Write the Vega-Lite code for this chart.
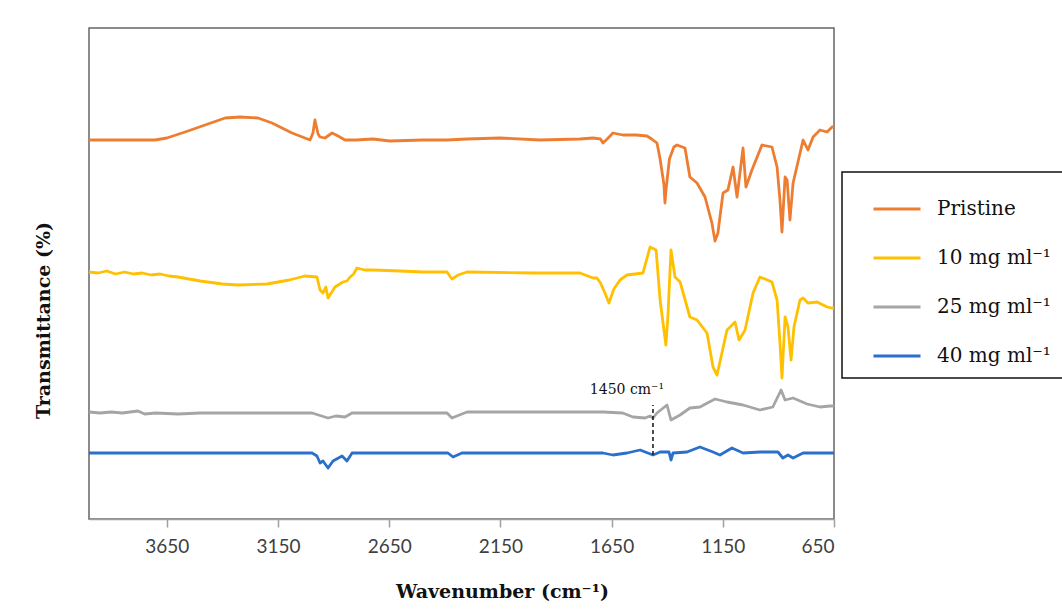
{
  "$schema": "https://vega.github.io/schema/vega-lite/v6.json",
  "autosize": "none",
  "width": 745,
  "height": 491,
  "padding": {"left": 89, "top": 28, "right": 228, "bottom": 95},
  "background": "white",
  "config": {
    "view": {"stroke": "#666666", "strokeWidth": 1.5},
    "axis": {"grid": false},
    "legend": {"strokeWidth": 1.5}
  },
  "datasets": {
    "spectra": [
      {"s":"Pristine","wn":4000,"t":379},{"s":"Pristine","wn":3850,"t":379},{"s":"Pristine","wn":3703,"t":379},{"s":"Pristine","wn":3650,"t":381},{"s":"Pristine","wn":3568,"t":387},{"s":"Pristine","wn":3478,"t":394},{"s":"Pristine","wn":3388,"t":401},{"s":"Pristine","wn":3321,"t":402},{"s":"Pristine","wn":3240,"t":401},{"s":"Pristine","wn":3177,"t":396},{"s":"Pristine","wn":3087,"t":386},{"s":"Pristine","wn":3029,"t":381},{"s":"Pristine","wn":3006,"t":379},{"s":"Pristine","wn":2993,"t":386},{"s":"Pristine","wn":2984,"t":399},{"s":"Pristine","wn":2970,"t":385},{"s":"Pristine","wn":2961,"t":382},{"s":"Pristine","wn":2939,"t":381},{"s":"Pristine","wn":2907,"t":386},{"s":"Pristine","wn":2880,"t":383},{"s":"Pristine","wn":2849,"t":379},{"s":"Pristine","wn":2800,"t":379},{"s":"Pristine","wn":2723,"t":380},{"s":"Pristine","wn":2647,"t":378},{"s":"Pristine","wn":2500,"t":379},{"s":"Pristine","wn":2390,"t":379},{"s":"Pristine","wn":2300,"t":380},{"s":"Pristine","wn":2152,"t":381},{"s":"Pristine","wn":1972,"t":379},{"s":"Pristine","wn":1792,"t":380},{"s":"Pristine","wn":1734,"t":381},{"s":"Pristine","wn":1700,"t":380},{"s":"Pristine","wn":1689,"t":376},{"s":"Pristine","wn":1670,"t":380},{"s":"Pristine","wn":1644,"t":386},{"s":"Pristine","wn":1600,"t":384},{"s":"Pristine","wn":1540,"t":384},{"s":"Pristine","wn":1491,"t":383},{"s":"Pristine","wn":1470,"t":380},{"s":"Pristine","wn":1446,"t":376},{"s":"Pristine","wn":1432,"t":360},{"s":"Pristine","wn":1415,"t":335},{"s":"Pristine","wn":1410,"t":316},{"s":"Pristine","wn":1405,"t":330},{"s":"Pristine","wn":1390,"t":360},{"s":"Pristine","wn":1370,"t":372},{"s":"Pristine","wn":1356,"t":374},{"s":"Pristine","wn":1320,"t":371},{"s":"Pristine","wn":1298,"t":342},{"s":"Pristine","wn":1266,"t":336},{"s":"Pristine","wn":1230,"t":322},{"s":"Pristine","wn":1199,"t":296},{"s":"Pristine","wn":1185,"t":278},{"s":"Pristine","wn":1172,"t":286},{"s":"Pristine","wn":1149,"t":326},{"s":"Pristine","wn":1127,"t":329},{"s":"Pristine","wn":1104,"t":352},{"s":"Pristine","wn":1086,"t":322},{"s":"Pristine","wn":1059,"t":371},{"s":"Pristine","wn":1046,"t":332},{"s":"Pristine","wn":1019,"t":349},{"s":"Pristine","wn":974,"t":374},{"s":"Pristine","wn":929,"t":372},{"s":"Pristine","wn":906,"t":352},{"s":"Pristine","wn":893,"t":319},{"s":"Pristine","wn":884,"t":287},{"s":"Pristine","wn":870,"t":342},{"s":"Pristine","wn":861,"t":339},{"s":"Pristine","wn":848,"t":299},{"s":"Pristine","wn":834,"t":336},{"s":"Pristine","wn":812,"t":357},{"s":"Pristine","wn":789,"t":379},{"s":"Pristine","wn":767,"t":369},{"s":"Pristine","wn":744,"t":382},{"s":"Pristine","wn":713,"t":389},{"s":"Pristine","wn":681,"t":387},{"s":"Pristine","wn":659,"t":392},{"s":"Pristine","wn":650,"t":392},

      {"s":"10 mg ml⁻¹","wn":4000,"t":247},{"s":"10 mg ml⁻¹","wn":3960,"t":246},{"s":"10 mg ml⁻¹","wn":3920,"t":248},{"s":"10 mg ml⁻¹","wn":3880,"t":245},{"s":"10 mg ml⁻¹","wn":3840,"t":247},{"s":"10 mg ml⁻¹","wn":3800,"t":245},{"s":"10 mg ml⁻¹","wn":3760,"t":246},{"s":"10 mg ml⁻¹","wn":3720,"t":244},{"s":"10 mg ml⁻¹","wn":3680,"t":245},{"s":"10 mg ml⁻¹","wn":3640,"t":243},{"s":"10 mg ml⁻¹","wn":3600,"t":242},{"s":"10 mg ml⁻¹","wn":3500,"t":238},{"s":"10 mg ml⁻¹","wn":3400,"t":235},{"s":"10 mg ml⁻¹","wn":3330,"t":234},{"s":"10 mg ml⁻¹","wn":3200,"t":235},{"s":"10 mg ml⁻¹","wn":3100,"t":239},{"s":"10 mg ml⁻¹","wn":3029,"t":243},{"s":"10 mg ml⁻¹","wn":2975,"t":242},{"s":"10 mg ml⁻¹","wn":2961,"t":229},{"s":"10 mg ml⁻¹","wn":2948,"t":226},{"s":"10 mg ml⁻¹","wn":2935,"t":232},{"s":"10 mg ml⁻¹","wn":2925,"t":221},{"s":"10 mg ml⁻¹","wn":2894,"t":232},{"s":"10 mg ml⁻¹","wn":2858,"t":237},{"s":"10 mg ml⁻¹","wn":2840,"t":238},{"s":"10 mg ml⁻¹","wn":2826,"t":242},{"s":"10 mg ml⁻¹","wn":2810,"t":245},{"s":"10 mg ml⁻¹","wn":2795,"t":251},{"s":"10 mg ml⁻¹","wn":2760,"t":249},{"s":"10 mg ml⁻¹","wn":2723,"t":249},{"s":"10 mg ml⁻¹","wn":2600,"t":248},{"s":"10 mg ml⁻¹","wn":2500,"t":247},{"s":"10 mg ml⁻¹","wn":2390,"t":247},{"s":"10 mg ml⁻¹","wn":2368,"t":240},{"s":"10 mg ml⁻¹","wn":2340,"t":244},{"s":"10 mg ml⁻¹","wn":2300,"t":247},{"s":"10 mg ml⁻¹","wn":2000,"t":246},{"s":"10 mg ml⁻¹","wn":1792,"t":246},{"s":"10 mg ml⁻¹","wn":1734,"t":241},{"s":"10 mg ml⁻¹","wn":1716,"t":241},{"s":"10 mg ml⁻¹","wn":1700,"t":236},{"s":"10 mg ml⁻¹","wn":1680,"t":226},{"s":"10 mg ml⁻¹","wn":1662,"t":216},{"s":"10 mg ml⁻¹","wn":1640,"t":230},{"s":"10 mg ml⁻¹","wn":1612,"t":239},{"s":"10 mg ml⁻¹","wn":1581,"t":244},{"s":"10 mg ml⁻¹","wn":1509,"t":246},{"s":"10 mg ml⁻¹","wn":1477,"t":272},{"s":"10 mg ml⁻¹","wn":1450,"t":269},{"s":"10 mg ml⁻¹","wn":1432,"t":219},{"s":"10 mg ml⁻¹","wn":1406,"t":174},{"s":"10 mg ml⁻¹","wn":1397,"t":202},{"s":"10 mg ml⁻¹","wn":1383,"t":269},{"s":"10 mg ml⁻¹","wn":1365,"t":242},{"s":"10 mg ml⁻¹","wn":1342,"t":237},{"s":"10 mg ml⁻¹","wn":1298,"t":202},{"s":"10 mg ml⁻¹","wn":1266,"t":199},{"s":"10 mg ml⁻¹","wn":1221,"t":186},{"s":"10 mg ml⁻¹","wn":1194,"t":152},{"s":"10 mg ml⁻¹","wn":1176,"t":144},{"s":"10 mg ml⁻¹","wn":1154,"t":166},{"s":"10 mg ml⁻¹","wn":1131,"t":189},{"s":"10 mg ml⁻¹","wn":1095,"t":197},{"s":"10 mg ml⁻¹","wn":1077,"t":179},{"s":"10 mg ml⁻¹","wn":1050,"t":189},{"s":"10 mg ml⁻¹","wn":1014,"t":226},{"s":"10 mg ml⁻¹","wn":983,"t":242},{"s":"10 mg ml⁻¹","wn":929,"t":237},{"s":"10 mg ml⁻¹","wn":906,"t":219},{"s":"10 mg ml⁻¹","wn":893,"t":176},{"s":"10 mg ml⁻¹","wn":884,"t":141},{"s":"10 mg ml⁻¹","wn":870,"t":202},{"s":"10 mg ml⁻¹","wn":857,"t":192},{"s":"10 mg ml⁻¹","wn":843,"t":159},{"s":"10 mg ml⁻¹","wn":830,"t":192},{"s":"10 mg ml⁻¹","wn":803,"t":219},{"s":"10 mg ml⁻¹","wn":789,"t":221},{"s":"10 mg ml⁻¹","wn":767,"t":216},{"s":"10 mg ml⁻¹","wn":726,"t":217},{"s":"10 mg ml⁻¹","wn":681,"t":212},{"s":"10 mg ml⁻¹","wn":659,"t":211},{"s":"10 mg ml⁻¹","wn":650,"t":211},

      {"s":"25 mg ml⁻¹","wn":4000,"t":107},{"s":"25 mg ml⁻¹","wn":3950,"t":106},{"s":"25 mg ml⁻¹","wn":3900,"t":107},{"s":"25 mg ml⁻¹","wn":3850,"t":106},{"s":"25 mg ml⁻¹","wn":3780,"t":108},{"s":"25 mg ml⁻¹","wn":3750,"t":105},{"s":"25 mg ml⁻¹","wn":3700,"t":106},{"s":"25 mg ml⁻¹","wn":3600,"t":105},{"s":"25 mg ml⁻¹","wn":3500,"t":106},{"s":"25 mg ml⁻¹","wn":3400,"t":106},{"s":"25 mg ml⁻¹","wn":3200,"t":106},{"s":"25 mg ml⁻¹","wn":3050,"t":106},{"s":"25 mg ml⁻¹","wn":2997,"t":106},{"s":"25 mg ml⁻¹","wn":2925,"t":101},{"s":"25 mg ml⁻¹","wn":2890,"t":103},{"s":"25 mg ml⁻¹","wn":2849,"t":102},{"s":"25 mg ml⁻¹","wn":2817,"t":106},{"s":"25 mg ml⁻¹","wn":2700,"t":106},{"s":"25 mg ml⁻¹","wn":2500,"t":106},{"s":"25 mg ml⁻¹","wn":2390,"t":106},{"s":"25 mg ml⁻¹","wn":2368,"t":101},{"s":"25 mg ml⁻¹","wn":2323,"t":105},{"s":"25 mg ml⁻¹","wn":2300,"t":107},{"s":"25 mg ml⁻¹","wn":2100,"t":107},{"s":"25 mg ml⁻¹","wn":1900,"t":107},{"s":"25 mg ml⁻¹","wn":1734,"t":107},{"s":"25 mg ml⁻¹","wn":1689,"t":107},{"s":"25 mg ml⁻¹","wn":1600,"t":106},{"s":"25 mg ml⁻¹","wn":1554,"t":102},{"s":"25 mg ml⁻¹","wn":1500,"t":101},{"s":"25 mg ml⁻¹","wn":1477,"t":103},{"s":"25 mg ml⁻¹","wn":1464,"t":101},{"s":"25 mg ml⁻¹","wn":1446,"t":106},{"s":"25 mg ml⁻¹","wn":1401,"t":114},{"s":"25 mg ml⁻¹","wn":1383,"t":99},{"s":"25 mg ml⁻¹","wn":1342,"t":104},{"s":"25 mg ml⁻¹","wn":1298,"t":111},{"s":"25 mg ml⁻¹","wn":1253,"t":112},{"s":"25 mg ml⁻¹","wn":1185,"t":120},{"s":"25 mg ml⁻¹","wn":1131,"t":117},{"s":"25 mg ml⁻¹","wn":1059,"t":114},{"s":"25 mg ml⁻¹","wn":983,"t":109},{"s":"25 mg ml⁻¹","wn":925,"t":112},{"s":"25 mg ml⁻¹","wn":888,"t":129},{"s":"25 mg ml⁻¹","wn":870,"t":119},{"s":"25 mg ml⁻¹","wn":834,"t":121},{"s":"25 mg ml⁻¹","wn":771,"t":115},{"s":"25 mg ml⁻¹","wn":713,"t":112},{"s":"25 mg ml⁻¹","wn":668,"t":113},{"s":"25 mg ml⁻¹","wn":650,"t":113},

      {"s":"40 mg ml⁻¹","wn":4000,"t":66},{"s":"40 mg ml⁻¹","wn":3800,"t":66},{"s":"40 mg ml⁻¹","wn":3600,"t":66},{"s":"40 mg ml⁻¹","wn":3400,"t":66},{"s":"40 mg ml⁻¹","wn":3200,"t":66},{"s":"40 mg ml⁻¹","wn":2997,"t":66},{"s":"40 mg ml⁻¹","wn":2975,"t":63},{"s":"40 mg ml⁻¹","wn":2961,"t":56},{"s":"40 mg ml⁻¹","wn":2948,"t":58},{"s":"40 mg ml⁻¹","wn":2925,"t":51},{"s":"40 mg ml⁻¹","wn":2903,"t":58},{"s":"40 mg ml⁻¹","wn":2862,"t":63},{"s":"40 mg ml⁻¹","wn":2840,"t":58},{"s":"40 mg ml⁻¹","wn":2817,"t":66},{"s":"40 mg ml⁻¹","wn":2500,"t":66},{"s":"40 mg ml⁻¹","wn":2386,"t":66},{"s":"40 mg ml⁻¹","wn":2363,"t":62},{"s":"40 mg ml⁻¹","wn":2323,"t":66},{"s":"40 mg ml⁻¹","wn":2000,"t":66},{"s":"40 mg ml⁻¹","wn":1689,"t":66},{"s":"40 mg ml⁻¹","wn":1644,"t":64},{"s":"40 mg ml⁻¹","wn":1581,"t":66},{"s":"40 mg ml⁻¹","wn":1522,"t":69},{"s":"40 mg ml⁻¹","wn":1464,"t":64},{"s":"40 mg ml⁻¹","wn":1432,"t":67},{"s":"40 mg ml⁻¹","wn":1392,"t":67},{"s":"40 mg ml⁻¹","wn":1383,"t":59},{"s":"40 mg ml⁻¹","wn":1374,"t":66},{"s":"40 mg ml⁻¹","wn":1311,"t":67},{"s":"40 mg ml⁻¹","wn":1253,"t":72},{"s":"40 mg ml⁻¹","wn":1194,"t":67},{"s":"40 mg ml⁻¹","wn":1163,"t":64},{"s":"40 mg ml⁻¹","wn":1109,"t":71},{"s":"40 mg ml⁻¹","wn":1059,"t":66},{"s":"40 mg ml⁻¹","wn":983,"t":67},{"s":"40 mg ml⁻¹","wn":902,"t":67},{"s":"40 mg ml⁻¹","wn":880,"t":61},{"s":"40 mg ml⁻¹","wn":857,"t":64},{"s":"40 mg ml⁻¹","wn":834,"t":61},{"s":"40 mg ml⁻¹","wn":789,"t":66},{"s":"40 mg ml⁻¹","wn":650,"t":66}
    ]
  },
  "layer": [
    {
      "data": {"name": "spectra"},
      "mark": {"type": "line", "strokeWidth": 2.8, "strokeJoin": "round"},
      "encoding": {
        "x": {
          "field": "wn", "type": "quantitative",
          "scale": {"domain": [650, 4000], "reverse": true, "nice": false, "zero": false},
          "axis": {
            "values": [3650, 3150, 2650, 2150, 1650, 1150, 650],
            "format": "d",
            "title": "Wavenumber  (cm⁻¹)",
            "titleFont": "DejaVu Serif", "titleFontSize": 19, "titleFontWeight": "bold", "titleColor": "#111111",
            "titleAnchor": "start", "titleAlign": "center", "titleX": 413, "titleY": 78, "titleBaseline": "alphabetic",
            "labelFont": "Lato", "labelFontSize": 19, "labelColor": "#404040", "labelPadding": 10,
            "tickSize": 8, "tickColor": "#a0a0a0", "tickWidth": 1.5,
            "domainColor": "#a0a0a0", "domainWidth": 1.5, "grid": false
          }
        },
        "y": {
          "field": "t", "type": "quantitative",
          "scale": {"domain": [0, 491], "nice": false, "zero": false},
          "axis": {
            "title": "Transmittance  (%)", "labels": false, "ticks": false, "domain": false, "grid": false,
            "titleFont": "DejaVu Serif", "titleFontSize": 19, "titleFontWeight": "bold", "titleColor": "#111111",
            "titleAnchor": "start", "titleAlign": "center", "titleAngle": 270, "titleBaseline": "middle", "titleX": -46, "titleY": 292
          }
        },
        "color": {
          "field": "s", "type": "nominal",
          "scale": {
            "domain": ["Pristine", "10 mg ml⁻¹", "25 mg ml⁻¹", "40 mg ml⁻¹"],
            "range": ["#ED7D31", "#FFC000", "#A5A5A5", "#2A6FCC"]
          },
          "legend": {
            "title": null, "orient": "none", "legendX": 753, "legendY": 144,
            "symbolType": "stroke", "symbolSize": 2209, "symbolStrokeWidth": 3, "symbolOffset": 18,
            "labelFont": "DejaVu Serif", "labelFontSize": 20, "labelColor": "#111111", "labelOffset": 15, "labelLimit": 300,
            "rowPadding": 14, "padding": 12, "strokeColor": "#111111", "fillColor": "white"
          }
        }
      }
    },
    {
      "data": {"values": [{"wn": 1464, "t1": 64, "t2": 114}]},
      "mark": {"type": "rule", "color": "#111111", "strokeWidth": 1.5, "strokeDash": [4, 3]},
      "encoding": {
        "x": {"field": "wn", "type": "quantitative"},
        "y": {"field": "t1", "type": "quantitative"},
        "y2": {"field": "t2"}
      }
    },
    {
      "data": {"values": [{"wn": 1581, "t": 129, "label": "1450 cm⁻¹"}]},
      "mark": {"type": "text", "font": "DejaVu Serif", "fontSize": 14, "color": "#111111", "baseline": "middle", "align": "center"},
      "encoding": {
        "x": {"field": "wn", "type": "quantitative"},
        "y": {"field": "t", "type": "quantitative"},
        "text": {"field": "label"}
      }
    }
  ]
}
